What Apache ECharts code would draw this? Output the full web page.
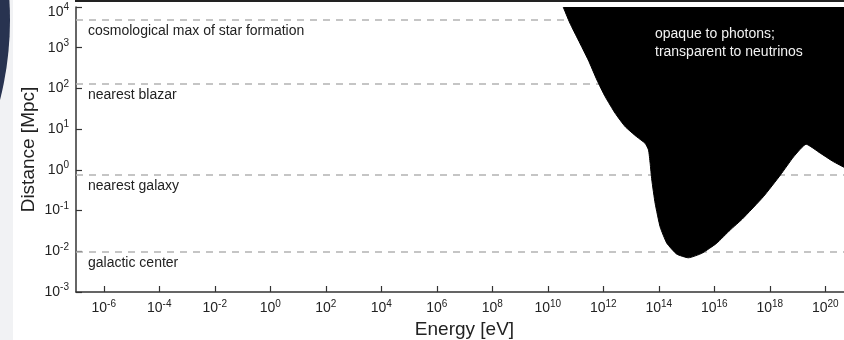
<!DOCTYPE html>
<html>
<head>
<meta charset="utf-8">
<script src="https://cdn.jsdelivr.net/npm/echarts@6/dist/echarts.min.js"></script>
<style>
  html, body { margin: 0; padding: 0; background: #fff; }
  #chart { width: 844px; height: 340px; }
</style>
</head>
<body>
<div id="chart"></div>
<script>
// tick positions (log axes)
var energyTicks = [1e-6, 1e-4, 1e-2, 1e0, 1e2, 1e4, 1e6, 1e8, 1e10, 1e12, 1e14, 1e16, 1e18, 1e20];
var distanceTicks = [1e-3, 1e-2, 1e-1, 1e0, 1e1, 1e2, 1e3, 1e4];

// boundary of the opaque region
var opaqueEnergy = [3.6e10, 6.3e10, 1.26e11, 2.88e11, 5.89e11, 1.17e12, 2.69e12, 6.17e12, 1.62e13, 3.24e13,
    4.27e13, 4.9e13, 5.62e13, 7.41e13, 1.12e14, 1.95e14, 4.47e14, 1.17e15, 3.55e15, 1.23e16,
    3.72e16, 1.02e17, 5.89e17, 2.4e18, 7.24e18, 2.04e19, 6.61e19, 2e20, 1e21];
var opaqueDistance = [1e4, 4.0e3, 1.55e3, 500, 162, 63, 24.5, 11.5, 6.46, 4.47,
    3.09, 1.45, 0.562, 0.151, 0.0398, 0.0158, 0.00851, 0.00692, 0.00891, 0.0158,
    0.0331, 0.0617, 0.219, 0.741, 2.09, 4.27, 2.57, 1.58, 0.89];

// reference distances (dashed lines)
var markNames = ['cosmological max of star formation', 'nearest blazar', 'nearest galaxy', 'galactic center'];
var markDistances = [5000, 133, 0.78, 0.008];

var regionText = 'opaque to photons;\ntransparent to neutrinos';

var textColor = '#222';
var fontFamily = '"Liberation Sans", Arial, sans-serif';

function powLabel(v) {
    var e = Math.round(Math.log10(v));
    return '{b|10}{s|' + e + '}';
}
// top y label sits a bit lower in the original
function distLabel(v) {
    var e = Math.round(Math.log10(v));
    if (e === 4) return '{bt|10}{st|' + e + '}';
    return '{b|10}{s|' + e + '}';
}
var labelRich = {
    b: { fontSize: 14, color: textColor, fontFamily: fontFamily },
    s: { fontSize: 10, color: textColor, fontFamily: fontFamily, padding: [0, 0, 9, 0] },
    bt: { fontSize: 14, color: textColor, fontFamily: fontFamily, padding: [10, 0, 0, 0] },
    st: { fontSize: 10, color: textColor, fontFamily: fontFamily, padding: [10, 0, 9, 0] }
};

var opaqueData = opaqueEnergy.map(function (e, i) { return [e, opaqueDistance[i]]; });

var markData = markNames.map(function (n, i) {
    return { yAxis: markDistances[i], label: { formatter: n } };
});

var chart = echarts.init(document.getElementById('chart'), null, { renderer: 'canvas' });
var option = {
    backgroundColor: '#fff',
    animation: false,
    textStyle: { fontFamily: fontFamily },
    // the plot runs a little past the right edge (cropped at ~10^20.7)
    grid: { left: 76, top: 7, width: 777, height: 285, outerBoundsMode: 'none', containLabel: false },
    graphic: [
        { type: 'rect', left: 0, top: 0, z: -10, shape: { width: 13, height: 340 }, style: { fill: '#f1f2f4' } },
        { type: 'circle', shape: { cx: -315, cy: 20, r: 325 }, z: -5, style: { fill: '#283350' } },
        { type: 'rect', left: 75, top: 0, shape: { width: 769, height: 2 }, style: { fill: '#222' } },
        {
            type: 'text', left: 655, top: 25, z: 10,
            style: { text: regionText, fill: '#f2f2f2', fontSize: 14, lineHeight: 18, fontFamily: fontFamily }
        }
    ],
    xAxis: {
        type: 'log',
        logBase: 10,
        min: 1e-7,
        max: 1e21,
        name: 'Energy [eV]',
        nameLocation: 'middle',
        nameGap: 27,
        nameTextStyle: { fontSize: 19, color: textColor },
        axisLine: { lineStyle: { color: '#333', width: 1.5 } },
        axisTick: { inside: true, length: 6, customValues: energyTicks, lineStyle: { color: '#333', width: 1.2 } },
        axisLabel: { customValues: energyTicks, margin: 7, fontSize: 14, formatter: powLabel, rich: labelRich },
        splitLine: { show: false }
    },
    yAxis: {
        type: 'log',
        logBase: 10,
        min: 1e-3,
        max: 1e4,
        name: 'Distance [Mpc]',
        nameLocation: 'middle',
        nameGap: 38,
        nameMoveOverlap: false,
        nameTextStyle: { fontSize: 19, color: textColor },
        axisLine: { lineStyle: { color: '#333', width: 1.5 } },
        axisTick: { inside: true, length: 6, customValues: distanceTicks, lineStyle: { color: '#333', width: 1.2 } },
        axisLabel: { customValues: distanceTicks, margin: 7, fontSize: 14, formatter: distLabel, rich: labelRich },
        splitLine: { show: false }
    },
    series: [
        {
            name: 'opaque',
            type: 'line',
            z: 3,
            data: opaqueData,
            showSymbol: false,
            symbol: 'none',
            smooth: 0.15,
            lineStyle: { color: '#000', width: 1 },
            areaStyle: { color: '#000', opacity: 1, origin: 'end' },
            markLine: {
                z: 1,
                silent: true,
                symbol: ['none', 'none'],
                lineStyle: { color: '#b3b3b3', width: 1.5, type: [7, 6] },
                label: {
                    position: 'insideStartBottom',
                    distance: [12, 5],
                    color: textColor,
                    fontSize: 14,
                    fontFamily: fontFamily
                },
                data: markData
            }
        }
    ]
};
chart.setOption(option);
</script>
</body>
</html>
